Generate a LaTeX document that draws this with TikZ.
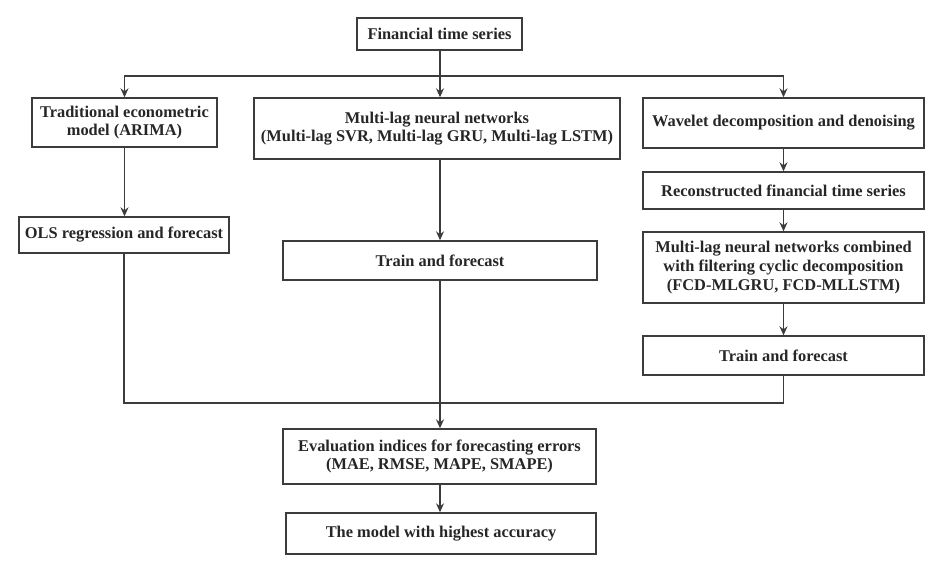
\documentclass[tikz,border=0pt]{standalone}
\usepackage{fontspec}
\setmainfont{Liberation Serif}
\usetikzlibrary{arrows.meta}
\definecolor{ln}{HTML}{3C3C3C}
\tikzset{
  box/.style={draw=ln, line width=1.4pt, inner sep=0pt, align=center,
    font=\fontsize{16.4}{18.7}\selectfont\bfseries, text=black!85},
  conn/.style={draw=ln, line width=1.4pt},
  arr/.style={conn, -{Stealth[length=9pt,width=8pt,inset=3pt]}}
}
\begin{document}
\begin{tikzpicture}[x=1pt,y=-1pt]
\useasboundingbox (0,0) rectangle (943,579);
\node[box, minimum width=165pt, minimum height=32pt] (fts) at (439.5,34) {Financial time series};
\node[box, minimum width=185pt, minimum height=49pt] (trad) at (124.5,122.5) {Traditional econometric\\model (ARIMA)};
\node[box, minimum width=366pt, minimum height=61pt] (mlnn) at (437,128.5) {Multi-lag neural networks\\(Multi-lag SVR, Multi-lag GRU, Multi-lag LSTM)};
\node[box, minimum width=281pt, minimum height=50pt] (wav) at (783.5,123) {Wavelet decomposition and denoising};
\node[box, minimum width=210pt, minimum height=36pt] (ols) at (124,235) {OLS regression and forecast};
\node[box, minimum width=314pt, minimum height=39pt] (tf1) at (440,260.5) {Train and forecast};
\node[box, minimum width=281pt, minimum height=37pt] (rec) at (783.5,190.5) {Reconstructed financial time series};
\node[box, minimum width=281pt, minimum height=71pt] (comb) at (783.5,267.5) {Multi-lag neural networks combined\\with filtering cyclic decomposition\\(FCD-MLGRU, FCD-MLLSTM)};
\node[box, minimum width=281pt, minimum height=39pt] (tf2) at (783.5,355.5) {Train and forecast};
\node[box, minimum width=313pt, minimum height=55pt] (eval) at (439.5,456.5) {Evaluation indices for forecasting errors\\(MAE, RMSE, MAPE, SMAPE)};
\node[box, minimum width=310pt, minimum height=41pt] (model) at (441,533.5) {The model with highest accuracy};
\coordinate (j) at (440,76);
\coordinate (bl) at (440,403);
\draw[conn] (fts.south -| j) -- (j);
\draw[arr] (j) -- (j |- mlnn.north);
\draw[arr] (j) -| (trad.north);
\draw[arr] (j) -| (wav.north);
\draw[arr] (trad.south) -- (trad.south |- ols.north);
\draw[arr] (tf1.north |- mlnn.south) -- (tf1.north);
\draw[arr] (wav.south) -- (rec.north);
\draw[arr] (rec.south) -- (comb.north);
\draw[arr] (comb.south) -- (tf2.north);
\draw[conn] (ols.south) |- (bl) -| (tf2.south);
\draw[arr] (tf1.south) -- (tf1.south |- eval.north);
\draw[arr] (eval.south -| bl) -- (bl |- model.north);
\end{tikzpicture}
\end{document}
